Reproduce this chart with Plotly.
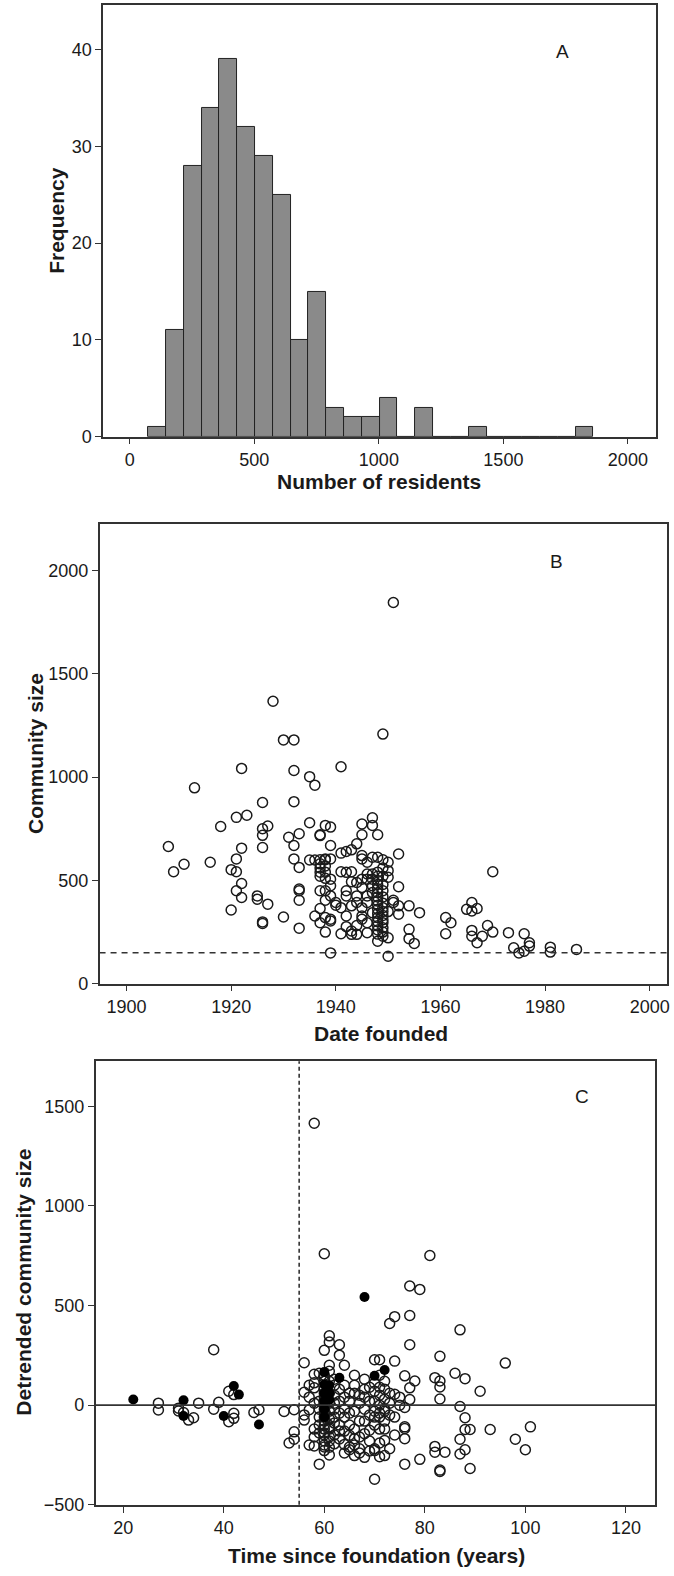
import plotly.graph_objects as go

# ---------------- Panel A: histogram ----------------
bin_start = 74.0
bin_width = 71.5
hist_counts = [1, 11, 28, 34, 39, 32, 29, 25, 10, 15, 3, 2, 2, 4, 0, 3, 0, 0, 1, 0, 0, 0, 0, 0, 1]

# ---------------- Panel B: community size vs date founded ----------------
b_points = {
    1908: [664], 1909: [542], 1911: [578], 1913: [948], 1916: [588], 1918: [761],
    1920: [552, 357], 1921: [805, 604, 542, 450], 1922: [1042, 656, 485, 417],
    1923: [815], 1925: [425, 409], 1926: [877, 750, 718, 659, 299, 292],
    1927: [763, 385], 1928: [1367], 1930: [1180, 323], 1931: [709],
    1932: [1180, 1032, 881, 669, 604], 1933: [726, 563, 458, 450, 404, 269],
    1935: [1002, 779, 599], 1936: [961, 599, 328],
    1937: [721, 717, 600, 580, 560, 540, 520, 450, 364, 295],
    1938: [766, 604, 600, 570, 540, 510, 450, 404, 320, 250],
    1939: [758, 669, 604, 506, 474, 425, 312, 304, 149],
    1940: [393, 380], 1941: [1050, 632, 542, 368, 242],
    1942: [640, 539, 450, 425, 328, 276], 1943: [648, 542, 493, 377, 255, 239],
    1944: [677, 490, 425, 393, 282, 239],
    1945: [773, 721, 620, 604, 506, 466, 368, 328, 312],
    1946: [588, 531, 506, 425, 393, 295, 247],
    1947: [803, 766, 612, 531, 506, 474, 441, 344],
    1948: [721, 612, 540, 520, 500, 480, 460, 440, 420, 400, 380, 360, 340, 320, 300, 280, 260, 240, 206],
    1949: [1208, 600, 560, 520, 480, 450, 420, 390, 368, 350, 330, 310, 295, 271, 250, 230],
    1950: [588, 547, 515, 349, 222, 133], 1951: [1845, 404, 393],
    1952: [628, 469, 377, 336], 1954: [377, 263, 218], 1955: [195], 1956: [344],
    1961: [320, 242], 1962: [295], 1965: [360], 1966: [393, 352, 258, 230],
    1967: [364, 198], 1968: [230], 1969: [282], 1970: [542, 250], 1973: [247],
    1974: [174], 1975: [149], 1976: [242, 157], 1977: [198, 182], 1981: [177, 153],
    1986: [166],
}
b_year = [y for y, vals in b_points.items() for _ in vals]
b_size = [v for vals in b_points.values() for v in vals]
b_threshold = 150

# ---------------- Panel C: detrended size vs time since foundation ----------------
c_open = {
    27: [10, -24], 31: [-15, -29], 32: [-37], 33: [-75], 34: [-63], 35: [10],
    38: [278, -20], 39: [14], 41: [70, -83], 42: [53, -41, -66], 46: [-37],
    47: [-23], 52: [-32], 53: [-190], 54: [-23, -134, -171],
    56: [213, 65, -49, -75], 57: [-23, -200, 100, 40],
    58: [1415, 155, 112, 87, -205, -160, -120, 10],
    59: [-296, -140, -60, 20, 160, -20, -100],
    60: [760, 275, 150, 140, 120, 80, 40, 0, -40, -80, -120, -140, -150, -180, -210,
         -228, -200, -100, -60, -20, 20, 60],
    61: [348, 317, 200, 170, 120, 60, 10, -30, -70, -110, -120, -160, -180, -211, -250],
    62: [130, 100, 50, 10, -20, -60, -90, -150, -194],
    63: [303, 251, 80, 20, -40, -100, -130, -170],
    64: [200, 100, 40, -20, -60, -130, -197, -240],
    65: [60, 20, -40, -100, -151, -210, -224],
    66: [150, 100, 60, -30, -120, -168, -200, -253],
    67: [50, 10, -80, -160, -219, -240],
    68: [130, 80, 40, -20, -80, -143, -262],
    69: [90, 20, -50, -126, -180, -230],
    70: [228, 110, 70, 20, -30, -60, -100, -219, -228, -372],
    71: [228, 150, 90, 50, 0, -40, -60, -120, -190, -259],
    72: [120, 80, 30, -20, -30, -80, -120, -177, -253],
    73: [410, 60, 10, -50, -219], 74: [444, 221, 55, -60, -150], 75: [40, 0],
    76: [147, -12, -109, -117, -168, -296],
    77: [598, 450, 303, 87, 28], 78: [121], 79: [581, -272], 81: [751],
    82: [138, -207, -236], 83: [245, 121, 91, 31, -326, -333], 84: [-236],
    86: [160], 87: [378, -7, -171, -245], 88: [133, -63, -122, -224],
    89: [-122, -318], 91: [70], 93: [-122], 96: [211], 98: [-171], 100: [-224],
    101: [-109],
}
c_filled = {
    22: [28], 32: [24, -54], 40: [-54], 42: [96], 43: [53], 47: [-97],
    60: [167, 104, 60, 20, -20, -60], 61: [61, 27, 100], 63: [138], 68: [543],
    70: [147], 72: [176],
}
c_open_x = [x for x, vals in c_open.items() for _ in vals]
c_open_y = [v for vals in c_open.values() for v in vals]
c_fill_x = [x for x, vals in c_filled.items() for _ in vals]
c_fill_y = [v for vals in c_filled.values() for v in vals]
c_cutoff = 55

# ---------------- figure ----------------
W, H = 674, 1576
FONT = "Liberation Sans"
TXT = "#1a1a1a"
LINE = "#333333"

def px(x):
    return x / W

def py(y):
    return 1 - y / H

fig = go.Figure()

centers = [bin_start + bin_width * (i + 0.5) for i in range(len(hist_counts))]
fig.add_trace(go.Bar(
    x=centers, y=hist_counts, width=bin_width,
    marker=dict(color="#8a8a8a", line=dict(color="#222222", width=1)),
    xaxis="x", yaxis="y", showlegend=False,
))

open_marker = dict(symbol="circle-open", size=10, color="#1a1a1a", line=dict(width=1.5))

fig.add_trace(go.Scatter(
    x=b_year, y=b_size, mode="markers", marker=open_marker,
    xaxis="x2", yaxis="y2", showlegend=False,
))

fig.add_trace(go.Scatter(
    x=c_open_x, y=c_open_y, mode="markers", marker=open_marker,
    xaxis="x3", yaxis="y3", showlegend=False,
))
fig.add_trace(go.Scatter(
    x=c_fill_x, y=c_fill_y, mode="markers",
    marker=dict(symbol="circle", size=10, color="#000000"),
    xaxis="x3", yaxis="y3", showlegend=False,
))

axis_common = dict(
    showline=True, linecolor=LINE, linewidth=1.5, mirror=True,
    showgrid=False, zeroline=False, ticks="outside", ticklen=6,
    tickcolor=LINE, tickwidth=1.2,
    tickfont=dict(family=FONT, size=18, color=TXT),
)

fig.update_layout(
    width=W, height=H,
    margin=dict(l=0, r=0, t=0, b=0),
    paper_bgcolor="white", plot_bgcolor="white",
    font=dict(family=FONT, color=TXT),
    bargap=0,
    xaxis=dict(domain=[px(103.5), px(659)], range=[-107.6, 2113.2],
               tickvals=[0, 500, 1000, 1500, 2000], anchor="y", **axis_common),
    yaxis=dict(domain=[py(439.5), py(5)], range=[0, 44.6],
               tickvals=[0, 10, 20, 30, 40], anchor="x", **axis_common),
    xaxis2=dict(domain=[px(100), px(670)], range=[1894.85, 2003.3],
                tickvals=[1900, 1920, 1940, 1960, 1980, 2000], anchor="y2", **axis_common),
    yaxis2=dict(domain=[py(990), py(527.5)], range=[0, 2224],
                tickvals=[0, 500, 1000, 1500, 2000], anchor="x2", **axis_common),
    xaxis3=dict(domain=[px(96), px(658)], range=[14.5, 125.8],
                tickvals=[20, 40, 60, 80, 100, 120], anchor="y3", **axis_common),
    yaxis3=dict(domain=[py(1514.4), py(1068)], range=[-500, 1726],
                tickvals=[-500, 0, 500, 1000, 1500], anchor="x3", **axis_common),
)

# reference lines
fig.add_shape(type="line", xref="x2 domain", yref="y2", x0=0, x1=1,
              y0=b_threshold, y1=b_threshold,
              line=dict(color=LINE, width=1.6, dash="6px,5px"))
fig.add_shape(type="line", xref="x3 domain", yref="y3", x0=0, x1=1, y0=0, y1=0,
              line=dict(color=LINE, width=1.6))
fig.add_shape(type="line", xref="x3", yref="y3 domain", x0=c_cutoff, x1=c_cutoff,
              y0=0, y1=1, line=dict(color=LINE, width=1.6, dash="4px,3px"))

title_font = dict(family=FONT, size=21, color=TXT)

def ann(text, x, y, angle=0, size=None, bold=True):
    f = dict(title_font)
    if size:
        f["size"] = size
    fig.add_annotation(
        text=f"<b>{text}</b>" if bold else text,
        xref="paper", yref="paper", x=px(x), y=py(y),
        xanchor="center", yanchor="middle", showarrow=False,
        textangle=angle, font=f,
    )

ann("Frequency", 56.5, 222, angle=-90)
ann("Number of residents", 381, 485)
ann("Community size", 35, 758, angle=-90)
ann("Date founded", 383, 1040)
ann("Detrended community size", 24, 1290, angle=-90)
ann("Time since foundation (years)", 378, 1565)

ann("A", 565, 52, size=19, bold=False)
ann("B", 559, 565, size=19, bold=False)
ann("C", 585, 1103, size=19, bold=False)

fig.write_html("out.html")
